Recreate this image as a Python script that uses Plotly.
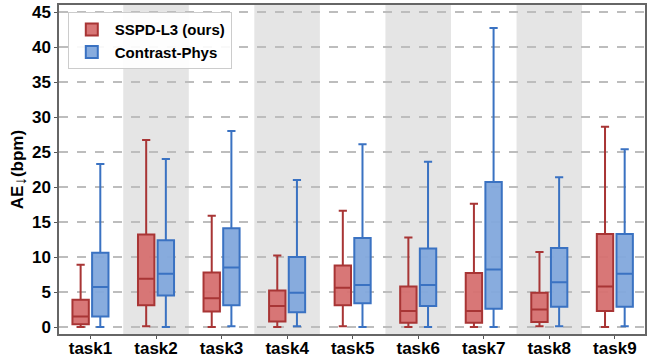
import plotly.graph_objects as go

tasks = ["task1", "task2", "task3", "task4", "task5", "task6", "task7", "task8", "task9"]

# SSPD-L3 (ours)
ours_low = [0.0, 0.1, 0.0, 0.0, 0.1, 0.0, 0.0, 0.1, 0.0]
ours_q1 = [0.4, 3.1, 2.2, 0.8, 3.1, 0.6, 0.6, 0.7, 2.3]
ours_med = [1.5, 6.9, 4.1, 3.0, 5.6, 2.3, 2.3, 2.5, 5.8]
ours_q3 = [3.9, 13.2, 7.8, 5.2, 8.8, 5.8, 7.7, 4.9, 13.3]
ours_high = [8.9, 26.7, 15.9, 10.2, 16.6, 12.8, 17.6, 10.7, 28.6]

# Contrast-Phys
cp_low = [0.0, 0.0, 0.1, 0.1, 0.0, 0.0, 0.0, 0.1, 0.1]
cp_q1 = [1.5, 4.5, 3.1, 2.1, 3.4, 3.0, 2.6, 2.9, 2.9]
cp_med = [5.7, 7.6, 8.5, 4.9, 6.0, 6.0, 8.2, 6.4, 7.6]
cp_q3 = [10.6, 12.4, 14.1, 10.0, 12.7, 11.2, 20.7, 11.3, 13.3]
cp_high = [23.3, 24.0, 28.0, 21.0, 26.1, 23.6, 42.7, 21.4, 25.4]

y_ticks = [0, 5, 10, 15, 20, 25, 30, 35, 40, 45]

idx = list(range(len(tasks)))
off = 0.15

fig = go.Figure()
fig.add_trace(go.Box(
    name="<b>SSPD-L3 (ours)</b>",
    x=[i - off for i in idx],
    lowerfence=ours_low, q1=ours_q1, median=ours_med, q3=ours_q3, upperfence=ours_high,
    width=0.25, whiskerwidth=0.5,
    fillcolor="rgba(214,112,112,0.95)",
    line=dict(color="#a83535", width=2),
    boxpoints=False,
))
fig.add_trace(go.Box(
    name="<b>Contrast-Phys</b>",
    x=[i + off for i in idx],
    lowerfence=cp_low, q1=cp_q1, median=cp_med, q3=cp_q3, upperfence=cp_high,
    width=0.25, whiskerwidth=0.5,
    fillcolor="rgba(130,168,220,0.95)",
    line=dict(color="#3a72c2", width=2),
    boxpoints=False,
))

shapes = []
for i in idx:
    if i % 2 == 1:
        shapes.append(dict(type="rect", xref="x", yref="paper", x0=i - 0.5, x1=i + 0.5,
                           y0=0, y1=1, fillcolor="#e5e5e5", line=dict(width=0), layer="below"))

font_bold = "Liberation Sans, Arial, sans-serif"
fig.update_layout(
    width=657, height=358,
    margin=dict(l=59, r=12, t=5, b=24),
    plot_bgcolor="white", paper_bgcolor="white",
    boxmode="overlay",
    shapes=shapes,
    font=dict(family=font_bold, size=17, color="black"),
    legend=dict(x=0.015, y=0.978, xanchor="left", yanchor="top",
                bgcolor="rgba(255,255,255,0.9)", bordercolor="#cccccc", borderwidth=1,
                font=dict(size=15, family=font_bold), itemwidth=36,
                tracegroupgap=0),
    xaxis=dict(range=[-0.48, 8.46], tickvals=idx, ticktext=["<b>%s</b>" % t for t in tasks],
               showgrid=False, zeroline=False, showline=True, linecolor="#666666", linewidth=1.5,
               mirror=True, ticks="outside", ticklen=3, tickcolor="#555555",
               tickfont=dict(size=17), automargin=False, ticklabelstandoff=-5),
    yaxis=dict(range=[-1.0, 46.0], tickvals=y_ticks, ticktext=["<b>%d</b>" % v for v in y_ticks],
               showgrid=True, gridcolor="#bdbdbd", griddash="dash", gridwidth=1.5,
               zeroline=False, showline=True, linecolor="#666666", linewidth=1.5,
               mirror=True, ticks="outside", ticklen=3, tickcolor="#555555",
               tickfont=dict(size=17), automargin=False,
               title=dict(text="<b>AE<span style=\"baseline-shift:-3px\">↓</span>(bpm)</b>",
                          font=dict(size=17), standoff=4)),
)

fig.write_html("out.html", post_script="document.body.style.margin='0';",
               config={"displayModeBar": False})
